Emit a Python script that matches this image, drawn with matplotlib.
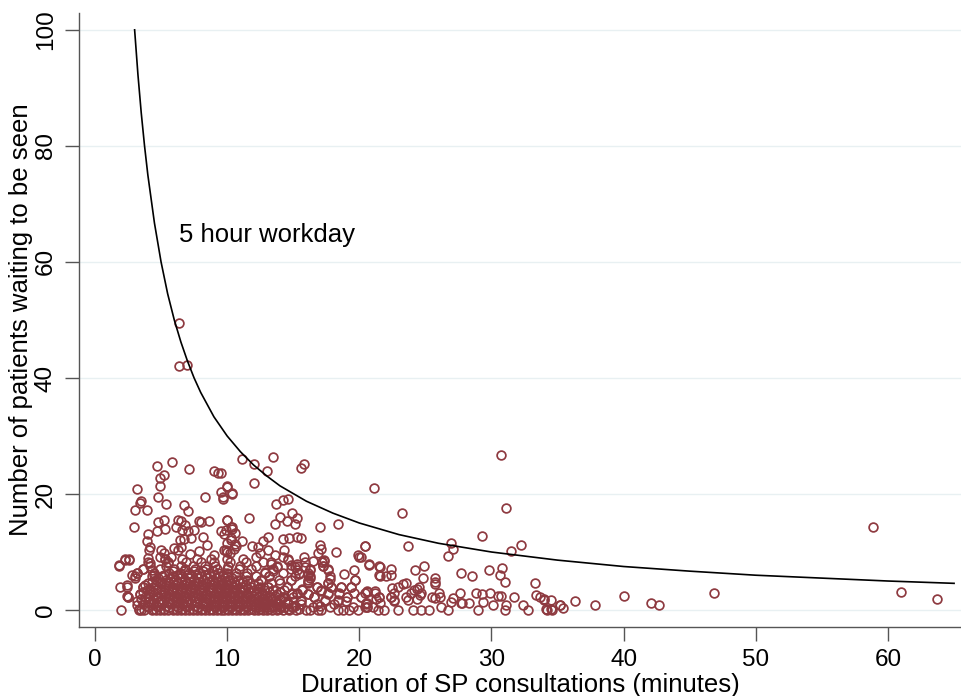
import matplotlib
matplotlib.use("Agg")
import matplotlib.pyplot as plt

# ---------------- data ----------------
# consultations with nobody waiting (bottom row)
zero_wait_x = [2.0, 3.3, 3.5, 3.7, 4.3, 4.6, 4.9, 5.2, 5.5, 5.9, 6.2, 6.5, 6.8, 7.1,
               7.4, 7.7, 8.0, 8.3, 8.6, 8.9, 9.2, 9.5, 9.8, 10.1, 10.4, 10.7, 11.0,
               11.3, 11.6, 12.0, 12.3, 12.7, 13.0, 13.4, 13.8, 14.2, 14.7, 15.2,
               16.0, 16.3, 16.85, 17.1, 18.4, 18.75, 19.2, 19.9, 21.4, 21.9, 22.9,
               24.05, 24.7, 25.3, 26.7, 29.0, 31.0, 32.8, 34.2, 34.6]

# dense core: waiting level and the durations seen at that level
core_levels = [0.25, 0.5, 0.75, 1.0, 1.3, 1.6, 1.9, 2.2, 2.5, 2.8, 3.1, 3.4, 3.7, 4.0,
               4.3, 4.6, 4.9, 5.2, 5.5, 5.8, 6.1, 6.4, 6.7, 7.0, 7.6, 8.2, 8.8]
core_x = [
    [4.4, 5.2, 5.9, 6.6, 7.4, 8.1, 8.8, 9.4, 10.0, 10.6, 11.2, 11.8, 12.5, 13.2, 13.9, 14.6, 15.4],
    [4.0, 4.8, 5.6, 6.3, 7.0, 7.8, 8.5, 9.1, 9.7, 10.3, 10.9, 11.5, 12.1, 12.8, 13.5, 14.3, 15.0, 16.5, 17.8, 19.5, 20.6],
    [3.9, 4.6, 5.4, 6.1, 6.8, 7.6, 8.3, 9.0, 9.6, 10.2, 10.8, 11.4, 12.0, 12.7, 13.5, 14.1, 15.1, 17.0],
    [3.6, 4.4, 5.1, 5.8, 6.6, 7.3, 8.1, 8.8, 9.4, 10.0, 10.6, 11.2, 11.8, 12.5, 13.2, 13.9, 14.6, 15.6, 16.8, 18.1, 20.5],
    [4.0, 4.8, 5.5, 6.2, 7.0, 7.7, 8.4, 9.2, 9.8, 10.4, 11.0, 11.7, 12.3, 13.0, 13.8, 14.5],
    [3.2, 4.1, 4.9, 5.5, 6.1, 6.9, 7.6, 8.3, 9.0, 9.6, 10.2, 10.8, 11.4, 12.0, 12.7, 13.6, 14.4, 15.6, 17.4, 18.35, 22.6],
    [3.5, 4.4, 5.1, 5.8, 6.5, 7.2, 7.9, 8.6, 9.3, 9.9, 10.6, 11.2, 11.8, 12.6, 13.4, 14.0],
    [2.5, 3.8, 4.6, 5.3, 6.0, 6.7, 7.4, 8.0, 8.7, 9.3, 9.9, 10.5, 11.1, 11.7, 12.4, 13.3, 14.2, 15.0, 16.6, 19.05, 20.1, 21.5, 22.4],
    [4.0, 4.8, 5.5, 6.2, 6.9, 7.6, 8.3, 9.0, 9.6, 10.2, 10.8, 11.4, 12.0, 12.9, 13.6],
    [3.4, 4.2, 5.0, 5.7, 6.4, 7.1, 7.8, 8.5, 9.1, 9.7, 10.3, 10.9, 11.5, 12.2, 12.65, 13.8, 14.9, 15.3, 16.1, 17.6, 18.5],
    [3.6, 4.4, 5.2, 5.9, 6.6, 7.3, 8.0, 8.7, 9.3, 9.9, 10.5, 11.1, 11.8, 12.4, 13.2, 14.0],
    [3.9, 4.7, 5.5, 6.2, 6.9, 7.6, 8.2, 8.9, 9.5, 10.1, 10.7, 11.3, 12.0, 12.8, 13.5, 14.3, 15.7, 17.1],
    [4.2, 5.0, 5.8, 6.5, 7.2, 7.9, 8.6, 9.2, 9.8, 10.4, 11.0, 11.6, 12.3],
    [2.4, 3.6, 4.4, 5.2, 5.9, 6.6, 7.3, 8.0, 8.7, 9.3, 9.9, 10.5, 11.1, 11.8, 12.5, 13.1, 14.5, 16.8, 17.85, 18.6, 19.4],
    [3.8, 4.6, 5.4, 6.1, 6.8, 7.5, 8.2, 8.9, 9.5, 10.1, 10.7, 11.4, 12.0],
    [4.0, 4.9, 5.6, 6.3, 7.0, 7.7, 8.4, 9.1, 9.7, 10.3, 11.0, 11.7, 12.3, 13.3, 14.0, 16.1, 17.6],
    [4.3, 5.1, 5.9, 6.5, 7.2, 7.9, 8.6, 9.3, 9.9, 10.5, 11.2],
    [4.6, 5.4, 6.1, 6.8, 7.5, 8.2, 8.9, 9.5, 10.1, 10.8, 11.5, 12.55, 13.9, 14.8, 16.1, 19.7],
    [4.8, 5.7, 6.4, 7.1, 7.8, 8.5, 9.2, 9.8, 10.4],
    [3.0, 4.3, 5.1, 5.9, 6.6, 7.3, 8.0, 8.7, 9.4, 10.0, 10.7, 11.4, 12.2, 13.2, 15.1, 16.3, 17.75],
    [5.2, 6.2, 7.0, 7.7, 8.3, 9.0, 9.7],
    [3.2, 4.5, 5.6, 6.4, 7.1, 7.9, 8.6, 9.3, 10.0, 10.7, 11.5, 12.9, 14.2, 15.4, 16.1],
    [5.9, 6.7, 7.5, 8.2, 8.9],
    [3.6, 4.9, 6.0, 6.8, 7.6, 8.4, 9.2, 10.0, 10.9, 11.8, 13.5, 14.8, 16.3, 17.6],
    [1.8, 4.2, 5.4, 6.5, 7.4, 8.3, 9.1, 10.1, 11.0, 12.2, 13.8, 15.3, 17.25],
    [4.0, 5.5, 6.9, 8.0, 9.0, 10.2, 11.4, 12.7, 13.3, 15.9, 17.15],
    [2.3, 2.6, 5.3, 6.6, 7.7, 8.8, 10.0, 11.2, 14.6],
]

# scattered points around the core (duration, waiting)
spread_pts = [
    # left side, lower values
    (1.9, 4.0), (2.4, 4.25), (2.4, 2.5), (2.5, 2.3), (3.2, 0.9), (3.3, 0.1),
    (3.6, 7.1), (3.2, 6.4), (3.0, 5.6), (3.6, 4.0), (3.4, 2.8), (2.8, 6.0),
    (4.2, 8.05), (4.0, 9.0), (4.3, 6.9), (4.5, 6.1),
    # left side, higher values
    (4.7, 24.9), (5.8, 25.5), (7.1, 24.3), (4.9, 22.8), (5.2, 23.2), (4.95, 21.4),
    (9.0, 23.9), (9.3, 23.7), (3.2, 20.9), (4.75, 19.4), (5.35, 18.3),
    (3.5, 18.8), (3.4, 18.4), (3.0, 17.2), (3.9, 17.2), (6.75, 18.05), (7.05, 17.1),
    (8.3, 19.4), (9.5, 20.3), (9.7, 19.2), (10.0, 21.3), (10.4, 20.1),
    (2.97, 14.3), (4.75, 15.2), (5.2, 15.5), (5.3, 14.0), (4.7, 13.7),
    (6.25, 15.6), (6.5, 15.3), (6.1, 14.3), (6.6, 13.8), (6.8, 14.6), (7.05, 13.6),
    (7.26, 12.5), (6.75, 12.3), (6.4, 12.1), (7.87, 15.4), (8.0, 15.1), (8.6, 15.4),
    (7.5, 13.8), (10.0, 15.6), (9.5, 13.7), (9.8, 13.1), (10.4, 14.3), (10.3, 12.5),
    (10.6, 13.2), (10.0, 11.5), (9.8, 10.3), (10.2, 9.8), (10.7, 11.0),
    (4.0, 13.1), (3.9, 11.9), (4.2, 10.9), (4.1, 10.3), (5.0, 10.3), (5.25, 9.8),
    (4.9, 9.2), (5.3, 8.85), (5.5, 8.05), (5.75, 9.2), (6.0, 10.7), (6.25, 10.3),
    (6.5, 10.9), (7.2, 9.6), (7.9, 10.1), (8.5, 11.2), (9.0, 9.5), (8.2, 12.6),
    (2.3, 8.6), (2.6, 8.6), (1.8, 7.8),
    # middle region
    (11.15, 26.1), (13.5, 26.3), (12.05, 25.1), (13.0, 23.9), (9.5, 23.7),
    (15.6, 24.4), (15.8, 25.2), (12.0, 21.9), (10.0, 21.2), (10.4, 20.0), (9.7, 19.4),
    (13.7, 18.3), (14.2, 19.0), (14.6, 19.2), (14.9, 16.8), (15.3, 15.9), (15.1, 14.8),
    (14.5, 15.3), (14.0, 16.1), (13.6, 14.9), (11.65, 15.9), (10.0, 15.6), (10.3, 14.3),
    (10.4, 14.0), (9.9, 13.8), (17.0, 14.3), (18.4, 14.8),
    (13.1, 12.6), (12.7, 11.9), (14.2, 12.2), (14.7, 12.5), (15.3, 12.6), (15.6, 12.4),
    (11.1, 11.9), (10.6, 11.3), (10.3, 12.1), (10.5, 10.6), (9.9, 10.3), (10.0, 10.0),
    (11.85, 11.0), (12.3, 10.9), (12.5, 9.8), (12.2, 9.2), (13.1, 10.3), (13.6, 9.4),
    (14.3, 10.3), (14.2, 9.2), (14.6, 8.6), (17.0, 11.15), (17.1, 10.5), (16.85, 9.8),
    (18.25, 10.05), (17.3, 8.6), (17.15, 8.3), (20.4, 11.0), (19.9, 9.4), (20.0, 9.1),
    (20.7, 7.8), (21.5, 7.6), (15.8, 9.1), (16.5, 8.4), (15.9, 7.5),
    (15.3, 8.0), (15.1, 7.5), (15.3, 6.9), (14.8, 7.7), (15.4, 6.2),
    (13.3, 8.0), (13.8, 7.5), (13.5, 6.8), (12.9, 6.55), (13.2, 5.9),
    (16.3, 6.9), (16.1, 6.1), (16.3, 5.5), (16.1, 4.9), (17.35, 8.5), (17.25, 7.6),
    (17.6, 6.9), (17.75, 5.4), (17.85, 4.0), (17.6, 3.0), (17.4, 1.7),
    (18.85, 6.2), (19.6, 6.9), (19.7, 5.2), (19.4, 4.0), (19.6, 2.9), (20.4, 3.0),
    (18.6, 4.0), (18.5, 2.9), (19.05, 2.3), (18.35, 1.7), (19.0, 1.5),
    (20.6, 3.1), (21.2, 2.9), (21.3, 1.95), (21.5, 6.1), (20.6, 1.15), (20.4, 0.6),
    (15.6, 1.7), (15.3, 2.9), (15.7, 3.6), (16.1, 2.8), (16.6, 2.3), (17.1, 3.2),
    (16.8, 4.0), (17.6, 4.6), (14.8, 5.2), (14.5, 4.0), (14.9, 2.9), (14.2, 2.3),
    (14.6, 1.15), (14.0, 0.6), (14.9, 0.6), (13.6, 1.5), (12.55, 5.2), (13.1, 4.0),
    (12.65, 2.9), (13.3, 2.3), (12.8, 1.15), (12.3, 0.6), (13.3, 0.6),
    # right of the core
    (30.7, 26.7), (21.1, 21.1), (23.2, 16.7), (31.1, 17.5), (29.3, 12.8), (26.9, 11.6),
    (27.1, 10.5), (26.7, 9.3), (32.2, 11.2), (31.5, 10.1), (23.65, 11.1), (20.4, 11.0),
    (20.1, 9.1), (20.7, 7.9), (21.6, 7.4), (22.4, 7.0), (24.2, 6.9), (24.9, 7.6),
    (24.85, 5.5), (21.6, 5.9), (22.0, 5.9), (22.4, 6.0), (25.7, 5.5), (25.7, 4.9),
    (25.7, 4.5), (27.7, 6.3), (28.5, 5.9), (29.8, 6.95), (30.8, 7.2), (30.65, 6.0),
    (31.0, 4.9), (33.3, 4.7), (33.4, 2.6), (33.7, 2.2), (34.0, 1.9), (34.5, 1.7),
    (31.7, 2.3), (30.7, 2.5), (30.5, 2.5), (30.15, 0.9), (29.9, 2.9), (29.25, 2.8),
    (28.8, 3.0), (29.35, 1.3), (27.6, 2.9), (27.1, 2.0), (27.8, 1.15), (28.3, 1.26),
    (31.1, 0.9), (32.4, 0.8), (34.1, 0.1), (34.5, 0.1), (35.2, 0.8), (26.2, 0.6),
    (26.0, 3.0), (26.1, 2.3), (25.7, 2.0), (25.5, 2.3), (24.35, 3.6), (24.55, 4.0),
    (24.15, 3.45), (23.9, 3.0), (24.65, 2.9), (24.4, 1.95), (24.6, 2.6),
    (23.3, 4.5), (23.5, 4.6), (22.9, 4.0), (23.55, 2.3), (23.65, 1.7),
    (22.5, 3.8), (22.6, 2.9), (22.4, 2.3), (22.6, 1.7), (21.2, 3.3), (21.5, 2.3),
    (21.6, 1.15), (21.0, 0.6), (20.6, 3.2), (20.1, 2.3), (20.5, 1.15), (20.6, 0.6),
    (26.9, 1.3), (27.7, 1.15), (35.4, 0.3), (34.0, 1.8), (35.2, 0.86), (36.3, 1.5),
    # far right
    (37.8, 0.8), (40.0, 2.5), (42.06, 1.26), (42.7, 0.9), (46.85, 2.9),
    (58.9, 14.3), (61.0, 3.1), (63.7, 1.9),
    # near the curve, top left
    (6.35, 49.5), (6.35, 42.0), (7.0, 42.2),
]

# curve: patients that fit into a 5 hour workday
curve_x = [3, 3.25, 3.5, 3.75, 4, 4.5, 5, 5.5, 6, 6.5, 7, 7.5, 8, 9, 10, 11, 12, 13,
           14, 16, 18, 20, 23, 26, 30, 35, 40, 45, 50, 55, 60, 65]
curve_y = [100, 92.3, 85.7, 80, 75, 66.7, 60, 54.5, 50, 46.2, 42.9, 40, 37.5, 33.3,
           30, 27.3, 25, 23.1, 21.4, 18.75, 16.7, 15, 13, 11.5, 10, 8.6, 7.5, 6.7,
           6, 5.5, 5, 4.6]

x_ticks = [0, 10, 20, 30, 40, 50, 60]
y_ticks = [0, 20, 40, 60, 80, 100]

# ---------------- assemble ----------------
xs = list(zero_wait_x)
ys = [0.0] * len(zero_wait_x)
for lev, row in zip(core_levels, core_x):
    xs += row
    ys += [lev] * len(row)
xs += [p[0] for p in spread_pts]
ys += [p[1] for p in spread_pts]

# ---------------- plot ----------------
plt.rcParams['font.family'] = ['Liberation Sans', 'DejaVu Sans']
fig = plt.figure(figsize=(9.62, 6.96), dpi=100)
ax = fig.add_axes([0.0821, 0.0991, 0.9179, 0.8822])

marker_col = '#8E3A40'
for yt in y_ticks:
    ax.axhline(yt, color='#E8F0F2', lw=1.0, zorder=0)

ax.plot(xs, ys, linestyle='none', marker='o', markersize=6.3,
        markerfacecolor='none', markeredgecolor=marker_col, markeredgewidth=1.25,
        zorder=2)
ax.plot(curve_x, curve_y, color='black', lw=1.2, zorder=3)

ax.text(6.35, 64.7, '5 hour workday', fontsize=18.5, va='center', ha='left')

ax.set_xlim(-1.21, 65.6)
ax.set_ylim(-2.93, 102.9)
ax.set_xticks(x_ticks)
ax.set_yticks(y_ticks)
ax.set_yticklabels([str(v) for v in y_ticks], rotation=90, va='center')
ax.tick_params(axis='both', direction='out', length=10, width=1.0,
               color='#555555', labelsize=17.5, pad=6)

for s in ['top', 'right']:
    ax.spines[s].set_visible(False)
for s in ['left', 'bottom']:
    ax.spines[s].set_color('#555555')
    ax.spines[s].set_linewidth(1.0)

ax.set_xlabel('Duration of SP consultations (minutes)', fontsize=18.5, labelpad=1)
ax.set_ylabel('Number of patients waiting to be seen', fontsize=18.5, labelpad=1)

fig.savefig('out.png', dpi=100)
